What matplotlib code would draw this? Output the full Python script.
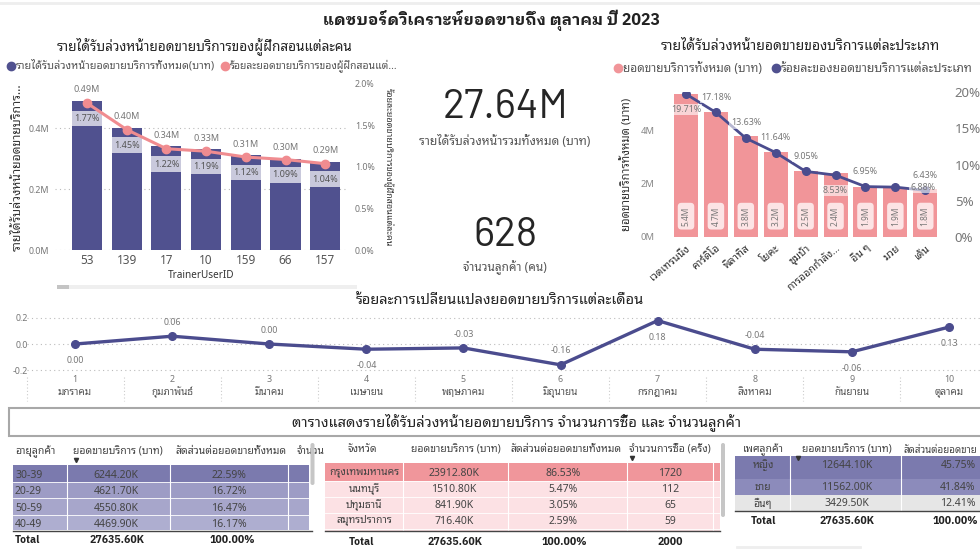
import matplotlib
matplotlib.use("Agg")
import matplotlib.pyplot as plt
from matplotlib.patches import Rectangle, FancyBboxPatch
from matplotlib.transforms import blended_transform_factory
import matplotlib.ticker as mticker

plt.rcParams['font.family'] = ['Noto Sans Thai Looped', 'DejaVu Sans']
BOLD = ['IBM Plex Sans Thai Looped', 'DejaVu Sans']
BIG = ['Barlow', 'Roboto', 'DejaVu Sans']

# ---------------- data ----------------
trainer_ids = ['53', '139', '17', '10', '159', '66', '157']
trainer_sales_m = [0.49, 0.40, 0.34, 0.33, 0.31, 0.30, 0.29]
trainer_pct = [1.77, 1.45, 1.22, 1.19, 1.12, 1.09, 1.04]

service_types = ['เวตเทรนนิ่ง', 'คาร์ดิโอ', 'พิลาทิส', 'โยคะ', 'ซุมบ้า',
                 'การออกกำลัง...', 'อื่น ๆ', 'มวย', 'เต้น']
service_sales_m = [5.4, 4.7, 3.8, 3.2, 2.5, 2.4, 1.9, 1.9, 1.8]
service_pct = [19.71, 17.18, 13.63, 11.64, 9.05, 8.53, 6.95, 6.88, 6.43]

month_nums = [1, 2, 3, 4, 5, 6, 7, 8, 9, 10]
month_names = ['มกราคม', 'กุมภาพันธ์', 'มีนาคม', 'เมษายน', 'พฤษภาคม',
               'มิถุนายน', 'กรกฎาคม', 'สิงหาคม', 'กันยายน', 'ตุลาคม']
month_change = [0.00, 0.06, 0.00, -0.04, -0.03, -0.16, 0.18, -0.04, -0.06, 0.13]

total_revenue_m = 27.64
customer_count = 628

age_groups = ['30-39', '20-29', '50-59', '40-49']
age_sales_k = [6244.20, 4621.70, 4550.80, 4469.90]
age_share = [22.59, 16.72, 16.47, 16.17]

provinces = ['กรุงเทพมหานคร', 'นนทบุรี', 'ปทุมธานี', 'สมุทรปราการ']
prov_sales_k = [23912.80, 1510.80, 841.90, 716.40]
prov_share = [86.53, 5.47, 3.05, 2.59]
prov_purchases = [1720, 112, 65, 59]

genders = ['หญิง', 'ชาย', 'อื่นๆ']
gender_sales_k = [12644.10, 11562.00, 3429.50]
gender_share = [45.75, 41.84, 12.41]

total_sales_k = 27635.60
total_purchases = 2000

# ---------------- figure ----------------
W, H = 980, 549
fig = plt.figure(figsize=(W / 100, H / 100), dpi=100)


def rect(x0, y0, x1, y1):
    return [x0 / W, 1 - y1 / H, (x1 - x0) / W, (y1 - y0) / H]


NAVY = '#50518F'
PINK = '#F19599'
SALMON = '#F08C90'
GRAY = '#777777'
DARK = '#333333'

bg = fig.add_axes([0, 0, 1, 1], zorder=0)
bg.set_xlim(0, W)
bg.set_ylim(H, 0)
bg.axis('off')

bg.plot([0, W], [3, 3], color='#EEEEEE', lw=2)
bg.text(492, 20, 'แดชบอร์ดวิเคราะห์ยอดขายถึง ตุลาคม ปี 2023', ha='center', va='center',
        fontsize=11.5, fontweight='bold', family=BOLD, color='#222222')

# ================= chart 1 =================
bg.text(205, 46, 'รายได้รับล่วงหน้ายอดขายบริการของผู้ฝึกสอนแต่ละคน', ha='center', va='center',
        fontsize=9.8, color='#252525')
bg.plot([11], [66], 'o', color=NAVY, ms=6)
bg.text(16, 66, 'รายได้รับล่วงหน้ายอดขายบริการทั้งหมด(บาท)', va='center', fontsize=7.8, color='#555555')
bg.plot([225], [66], 'o', color=SALMON, ms=6)
bg.text(230, 66, 'ร้อยละยอดขายบริการของผู้ฝึกสอนแต่...', va='center', fontsize=7.5, color='#555555')

ax1 = fig.add_axes(rect(55, 84, 348, 250), zorder=2)
ax1.set_facecolor('none')
x1 = list(range(len(trainer_ids)))
ax1.bar(x1, trainer_sales_m, width=0.76, color=NAVY, zorder=2)
ax1.set_xlim(-0.806, 6.574)
ax1.set_ylim(0, 0.5443)
ax1.set_yticks([0, 0.2, 0.4])
ax1.yaxis.set_major_formatter(mticker.FuncFormatter(lambda v, p: f'{v:.1f}M'))
ax1.set_xticks(x1)
ax1.set_xticklabels(trainer_ids)
ax1.tick_params(axis='y', length=0, pad=4, labelsize=6.4, labelcolor=GRAY)
ax1.tick_params(axis='x', length=0, pad=3, labelsize=8.5, labelcolor='#555555')
ax1.grid(axis='y', linestyle=(0, (1, 3)), color='#BBBBBB', lw=0.8, zorder=0)
for s in ax1.spines.values():
    s.set_visible(False)
for i, v in enumerate(trainer_sales_m):
    ax1.annotate(f'{v:.2f}M', xy=(i, v), xytext=(0, 8), textcoords='offset points',
                 ha='center', va='center', fontsize=6.5, color=GRAY)
ax1.set_xlabel('TrainerUserID', fontsize=7.2, color=DARK, labelpad=2)
ax1.set_ylabel('รายได้รับล่วงหน้ายอดขายบริการ...', fontsize=8.8, color=DARK, labelpad=4)

ax1r = ax1.twinx()
ax1r.set_zorder(3)
ax1r.set_facecolor('none')
ax1r.set_ylim(0, 2.0)
ax1r.set_yticks([0, 0.5, 1.0, 1.5, 2.0])
ax1r.yaxis.set_major_formatter(mticker.FuncFormatter(lambda v, p: f'{v:.1f}%'))
ax1r.tick_params(axis='y', length=0, pad=5, labelsize=6.4, labelcolor=GRAY)
for s in ax1r.spines.values():
    s.set_visible(False)
for i, v in enumerate(trainer_pct):
    ax1r.add_patch(Rectangle((i - 0.38, v - 0.28), 0.76, 0.19, facecolor='#C9C9DC',
                             edgecolor='none', zorder=1))
    ax1r.text(i, v - 0.185, f'{v:.2f}%', ha='center', va='center', fontsize=6.5,
              color='#555555', zorder=2)
ax1r.plot(x1, trainer_pct, color=SALMON, lw=2.2, marker='o', ms=6, zorder=3)
ax1r.set_ylabel('ร้อยละยอดขายบริการของผู้ฝึกสอนแต่ละคน', rotation=270, fontsize=6.5,
                color=DARK, labelpad=6, va='bottom')

# scrollbar
bg.add_patch(Rectangle((57, 285), 300, 4, facecolor='#EFEFEF', edgecolor='none'))
bg.add_patch(Rectangle((57, 285), 12, 4, facecolor='#C4C4C4', edgecolor='none'))

# ================= cards =================
bg.text(505, 108, f'{total_revenue_m:.2f}M', ha='center', va='center', fontsize=29.5,
        family=BIG, color='#252525')
bg.text(505, 141, 'รายได้รับล่วงหน้ารวมทั้งหมด (บาท)', ha='center', va='center', fontsize=8.7,
        color='#555555')
bg.text(505, 235, f'{customer_count}', ha='center', va='center', fontsize=29.5,
        family=BIG, color='#252525')
bg.text(505, 268, 'จำนวนลูกค้า (คน)', ha='center', va='center', fontsize=8.5, color='#555555')

# ================= chart 2 =================
bg.text(800, 46, 'รายได้รับล่วงหน้ายอดขายของบริการแต่ละประเภท', ha='center', va='center',
        fontsize=10, color='#252525')
bg.plot([618], [68], 'o', color=PINK, ms=6)
bg.text(623, 68, 'ยอดขายบริการทั้งหมด (บาท)', va='center', fontsize=8.5, color='#555555')
bg.plot([776], [68], 'o', color=NAVY, ms=6)
bg.text(781, 68, 'ร้อยละของยอดขายบริการแต่ละประเภท', va='center', fontsize=8.8, color='#555555')

ax2 = fig.add_axes(rect(660, 92, 945, 237), zorder=2)
ax2.set_facecolor('none')
x2 = list(range(len(service_types)))
ax2.bar(x2, service_sales_m, width=0.8, color=PINK, zorder=2)
ax2.set_xlim(-0.87, 8.66)
ax2.set_ylim(0, 5.47)
ax2.set_yticks([0, 2, 4])
ax2.yaxis.set_major_formatter(mticker.FuncFormatter(lambda v, p: f'{v:.0f}M'))
ax2.set_xticks(x2)
ax2.set_xticklabels(service_types, rotation=40, ha='right', rotation_mode='anchor')
ax2.tick_params(axis='y', length=0, pad=4, labelsize=6.8, labelcolor='#888888')
ax2.tick_params(axis='x', length=0, pad=4, labelsize=7.6, labelcolor=DARK)
for s in ax2.spines.values():
    s.set_visible(False)
for i, v in enumerate(service_sales_m):
    ax2.annotate(f'{v:.1f}M', xy=(i, 0), xytext=(0, 15), textcoords='offset points',
                 ha='center', va='center', rotation=90, fontsize=6, color=GRAY,
                 bbox=dict(boxstyle='round,pad=0.45', facecolor='#FCE4E5', edgecolor='none'))
ax2.set_ylabel('ยอดขายบริการทั้งหมด (บาท)', fontsize=8.2, color=DARK, labelpad=5)

ax2r = ax2.twinx()
ax2r.set_zorder(3)
ax2r.set_facecolor('none')
ax2r.set_ylim(0, 20)
ax2r.set_yticks([0, 5, 10, 15, 20])
ax2r.yaxis.set_major_formatter(mticker.FuncFormatter(lambda v, p: f'{v:.0f}%'))
ax2r.tick_params(axis='y', length=0, pad=7, labelsize=9.5, labelcolor=GRAY)
for s in ax2r.spines.values():
    s.set_visible(False)
ax2r.plot(x2, service_pct, color='#4B4C8E', lw=2, marker='o', ms=5.5, zorder=3)
lab_off = [(0, -11), (0, 11), (0, 11), (0, 11), (0, 11), (0, -11), (0, 11), (20, 0), (0, 11)]
for i, v in enumerate(service_pct):
    ax2r.annotate(f'{v:.2f}%', xy=(i, v), xytext=lab_off[i], textcoords='offset points',
                  ha='center', va='center', fontsize=6.4, color=GRAY, zorder=4,
                  bbox=dict(boxstyle='square,pad=0.15', facecolor='white', alpha=0.6,
                            edgecolor='none'))

# ================= line chart =================
bg.text(500, 301, 'ร้อยละการเปลี่ยนแปลงยอดขายบริการแต่ละเดือน', ha='center', va='center',
        fontsize=10.5, color='#252525')
ax3 = fig.add_axes(rect(26.5, 312, 980, 372), zorder=2)
ax3.set_facecolor('none')
ax3.plot(month_nums, month_change, color='#4B4C8E', lw=2.4, marker='o', ms=5.5, zorder=3)
ax3.set_xlim(0.5, 0.5 + (980 - 26.5) / 97.1)
ax3.set_ylim(-0.215, 0.246)
ax3.set_yticks([-0.2, 0.0, 0.2])
ax3.yaxis.set_major_formatter(mticker.FuncFormatter(lambda v, p: f'{v:.1f}'))
ax3.set_xticks(month_nums)
ax3.set_xticklabels([str(m) for m in month_nums])
ax3.tick_params(axis='y', length=0, pad=-1, labelsize=6.4, labelcolor=GRAY)
ax3.tick_params(axis='x', length=0, pad=2, labelsize=6.4, labelcolor=GRAY)
ax3.grid(axis='y', linestyle=(0, (1, 3)), color='#BBBBBB', lw=0.8, zorder=0)
for s in ax3.spines.values():
    s.set_visible(False)
tr = blended_transform_factory(ax3.transData, ax3.transAxes)
for i, m in enumerate(month_nums):
    ax3.text(m, -0.34, month_names[i], transform=tr, ha='center', va='center',
             fontsize=7.2, color='#555555')
    ax3.plot([m - 0.5, m - 0.5], [-0.08, -0.48], transform=tr, clip_on=False,
             linestyle=(0, (1, 2)), color='#CCCCCC', lw=0.8)
off3 = [-12, 10, 10, -12, 10, 10, -12, 10, -12, -12]
for i, v in enumerate(month_change):
    ax3.annotate(f'{v:.2f}', xy=(month_nums[i], v), xytext=(0, off3[i]),
                 textcoords='offset points', ha='center', va='center', fontsize=6.4,
                 color=GRAY)

# ================= tables =================
bg.add_patch(Rectangle((9, 408), 990, 28, facecolor='white', edgecolor='#A8A8A8', lw=1.5))
bg.text(517, 422, 'ตารางแสดงรายได้รับล่วงหน้ายอดขายบริการ จำนวนการซื้อ และ จำนวนลูกค้า',
        ha='center', va='center', fontsize=10.6, color='#252525')

TFS = 7.5
TB = 7.6
HC = '#444444'

# --- table 1 (age) ---
bg.text(15, 452, 'อายุลูกค้า', va='center', fontsize=TFS, color=HC)
bg.text(73, 452, 'ยอดขายบริการ (บาท)', va='center', fontsize=TFS, color=HC)
bg.text(175, 452, 'สัดส่วนต่อยอดขายทั้งหมด', va='center', fontsize=TFS, color=HC)
bg.text(297, 452, 'จำนวน', va='center', fontsize=TFS, color=HC, clip_on=True,
        clip_path=Rectangle((290, 440), 19, 20, transform=bg.transData))
bg.plot([76], [459.5], marker='v', color='#333333', ms=3)
row_cols1 = ['#7B7AAE', '#9D9CC5', '#A7A6CB', '#AEAED0']
for i, g in enumerate(age_groups):
    y0 = 465 + 16.6 * i
    bg.add_patch(Rectangle((13, y0), 296, 16.6, facecolor=row_cols1[i], edgecolor='none'))
    yc = y0 + 10
    bg.text(15, yc, g, va='center', fontsize=TFS, color=HC)
    bg.text(116, yc, f'{age_sales_k[i]:.2f}K', ha='center', va='center', fontsize=TFS, color=HC)
    bg.text(229, yc, f'{age_share[i]:.2f}%', ha='center', va='center', fontsize=TFS, color=HC)
for xv in [67, 170, 288]:
    bg.plot([xv, xv], [465, 531], color='white', lw=0.8)
for k in range(1, 4):
    bg.plot([13, 309], [465 + 16.6 * k] * 2, color='white', lw=0.6)
bg.add_patch(Rectangle((10, 530), 305, 19, facecolor='white', edgecolor='none', zorder=3))
bg.plot([13, 312], [531, 531], color='#444444', lw=1, zorder=4)
bg.text(15, 540, 'Total', va='center', fontsize=TB, fontweight='bold', family=BOLD,
        color='#222222', zorder=5)
bg.text(117, 540, f'{total_sales_k:.2f}K', ha='center', va='center', fontsize=TB,
        fontweight='bold', family=BOLD, color='#222222', zorder=5)
bg.text(232, 540, '100.00%', ha='center', va='center', fontsize=TB, fontweight='bold',
        family=BOLD, color='#222222', zorder=5)
bg.add_patch(FancyBboxPatch((310.5, 443), 4, 42, boxstyle='round,pad=0,rounding_size=2',
                            facecolor='#C6C6C6', edgecolor='none', zorder=6))

# --- table 2 (province) ---
bg.text(362, 450, 'จังหวัด', ha='center', va='center', fontsize=TFS, color=HC)
bg.text(456, 450, 'ยอดขายบริการ (บาท)', ha='center', va='center', fontsize=TFS, color=HC)
bg.text(566, 450, 'สัดส่วนต่อยอดขายทั้งหมด', ha='center', va='center', fontsize=TFS, color=HC)
bg.text(670, 450, 'จำนวนการซื้อ (ครั้ง)', ha='center', va='center', fontsize=TFS, color=HC)
bg.plot([632], [458], marker='v', color='#333333', ms=3)
bg.add_patch(Rectangle((325, 463), 395, 68, facecolor='#FCE1E4', edgecolor='none'))
bg.add_patch(Rectangle((325, 463), 395, 18, facecolor='#F0969B', edgecolor='none'))
for i, p in enumerate(provinces):
    yc = 473 + 16 * i
    bg.text(364, yc, p, ha='center', va='center', fontsize=TFS, color=HC)
    bg.text(454, yc, f'{prov_sales_k[i]:.2f}K', ha='center', va='center', fontsize=TFS, color=HC)
    bg.text(563, yc, f'{prov_share[i]:.2f}%', ha='center', va='center', fontsize=TFS, color=HC)
    bg.text(670, yc, f'{prov_purchases[i]}', ha='center', va='center', fontsize=TFS, color=HC)
for xv in [403, 508, 627, 713]:
    bg.plot([xv, xv], [463, 531], color='white', lw=0.8)
for k in range(4):
    bg.plot([325, 720], [481 + 16 * k] * 2, color='white', lw=0.6)
bg.plot([325, 720], [531, 531], color='#444444', lw=1, zorder=4)
bg.text(361, 542, 'Total', ha='center', va='center', fontsize=TB, fontweight='bold',
        family=BOLD, color='#222222')
bg.text(455, 542, f'{total_sales_k:.2f}K', ha='center', va='center', fontsize=TB,
        fontweight='bold', family=BOLD, color='#222222')
bg.text(564, 542, '100.00%', ha='center', va='center', fontsize=TB, fontweight='bold',
        family=BOLD, color='#222222')
bg.text(670, 542, f'{total_purchases}', ha='center', va='center', fontsize=TB,
        fontweight='bold', family=BOLD, color='#222222')
bg.add_patch(FancyBboxPatch((721, 443), 4, 74, boxstyle='round,pad=0,rounding_size=2',
                            facecolor='#C6C6C6', edgecolor='none', zorder=6))

# --- table 3 (gender) ---
bg.text(763, 450, 'เพศลูกค้า', ha='center', va='center', fontsize=TFS, color=HC)
bg.text(847, 450, 'ยอดขายบริการ (บาท)', ha='center', va='center', fontsize=TFS, color=HC)
bg.text(903, 450, 'สัดส่วนต่อยอดขาย', va='center', fontsize=7.0, color=HC)
bg.plot([798], [458], marker='v', color='#333333', ms=3)
row_cols3 = ['#7B7AAE', '#8C8BBB', '#E6E6E6']
row_y3 = [456, 479, 495, 511]
for i, g in enumerate(genders):
    bg.add_patch(Rectangle((735, row_y3[i]), 250, row_y3[i + 1] - row_y3[i],
                           facecolor=row_cols3[i], edgecolor='none'))
    yc = (row_y3[i] + row_y3[i + 1]) / 2 + (-2 if i == 0 else 1)
    bg.text(763, yc, g, ha='center', va='center', fontsize=TFS, color=HC)
    bg.text(847, yc, f'{gender_sales_k[i]:.2f}K', ha='center', va='center', fontsize=TFS, color=HC)
    bg.text(958, yc, f'{gender_share[i]:.2f}%', ha='center', va='center', fontsize=TFS, color=HC)
for xv in [790, 901]:
    bg.plot([xv, xv], [456, 511], color='white', lw=0.8)
bg.plot([735, 980], [511, 511], color='#444444', lw=1)
bg.text(763, 521, 'Total', ha='center', va='center', fontsize=TB, fontweight='bold',
        family=BOLD, color='#222222')
bg.text(847, 521, f'{total_sales_k:.2f}K', ha='center', va='center', fontsize=TB,
        fontweight='bold', family=BOLD, color='#222222')
bg.text(955, 521, '100.00%', ha='center', va='center', fontsize=TB, fontweight='bold',
        family=BOLD, color='#222222')
bg.plot([737, 860], [547, 547], color='#EEEEEE', lw=2)

fig.savefig('out.png', dpi=100)
